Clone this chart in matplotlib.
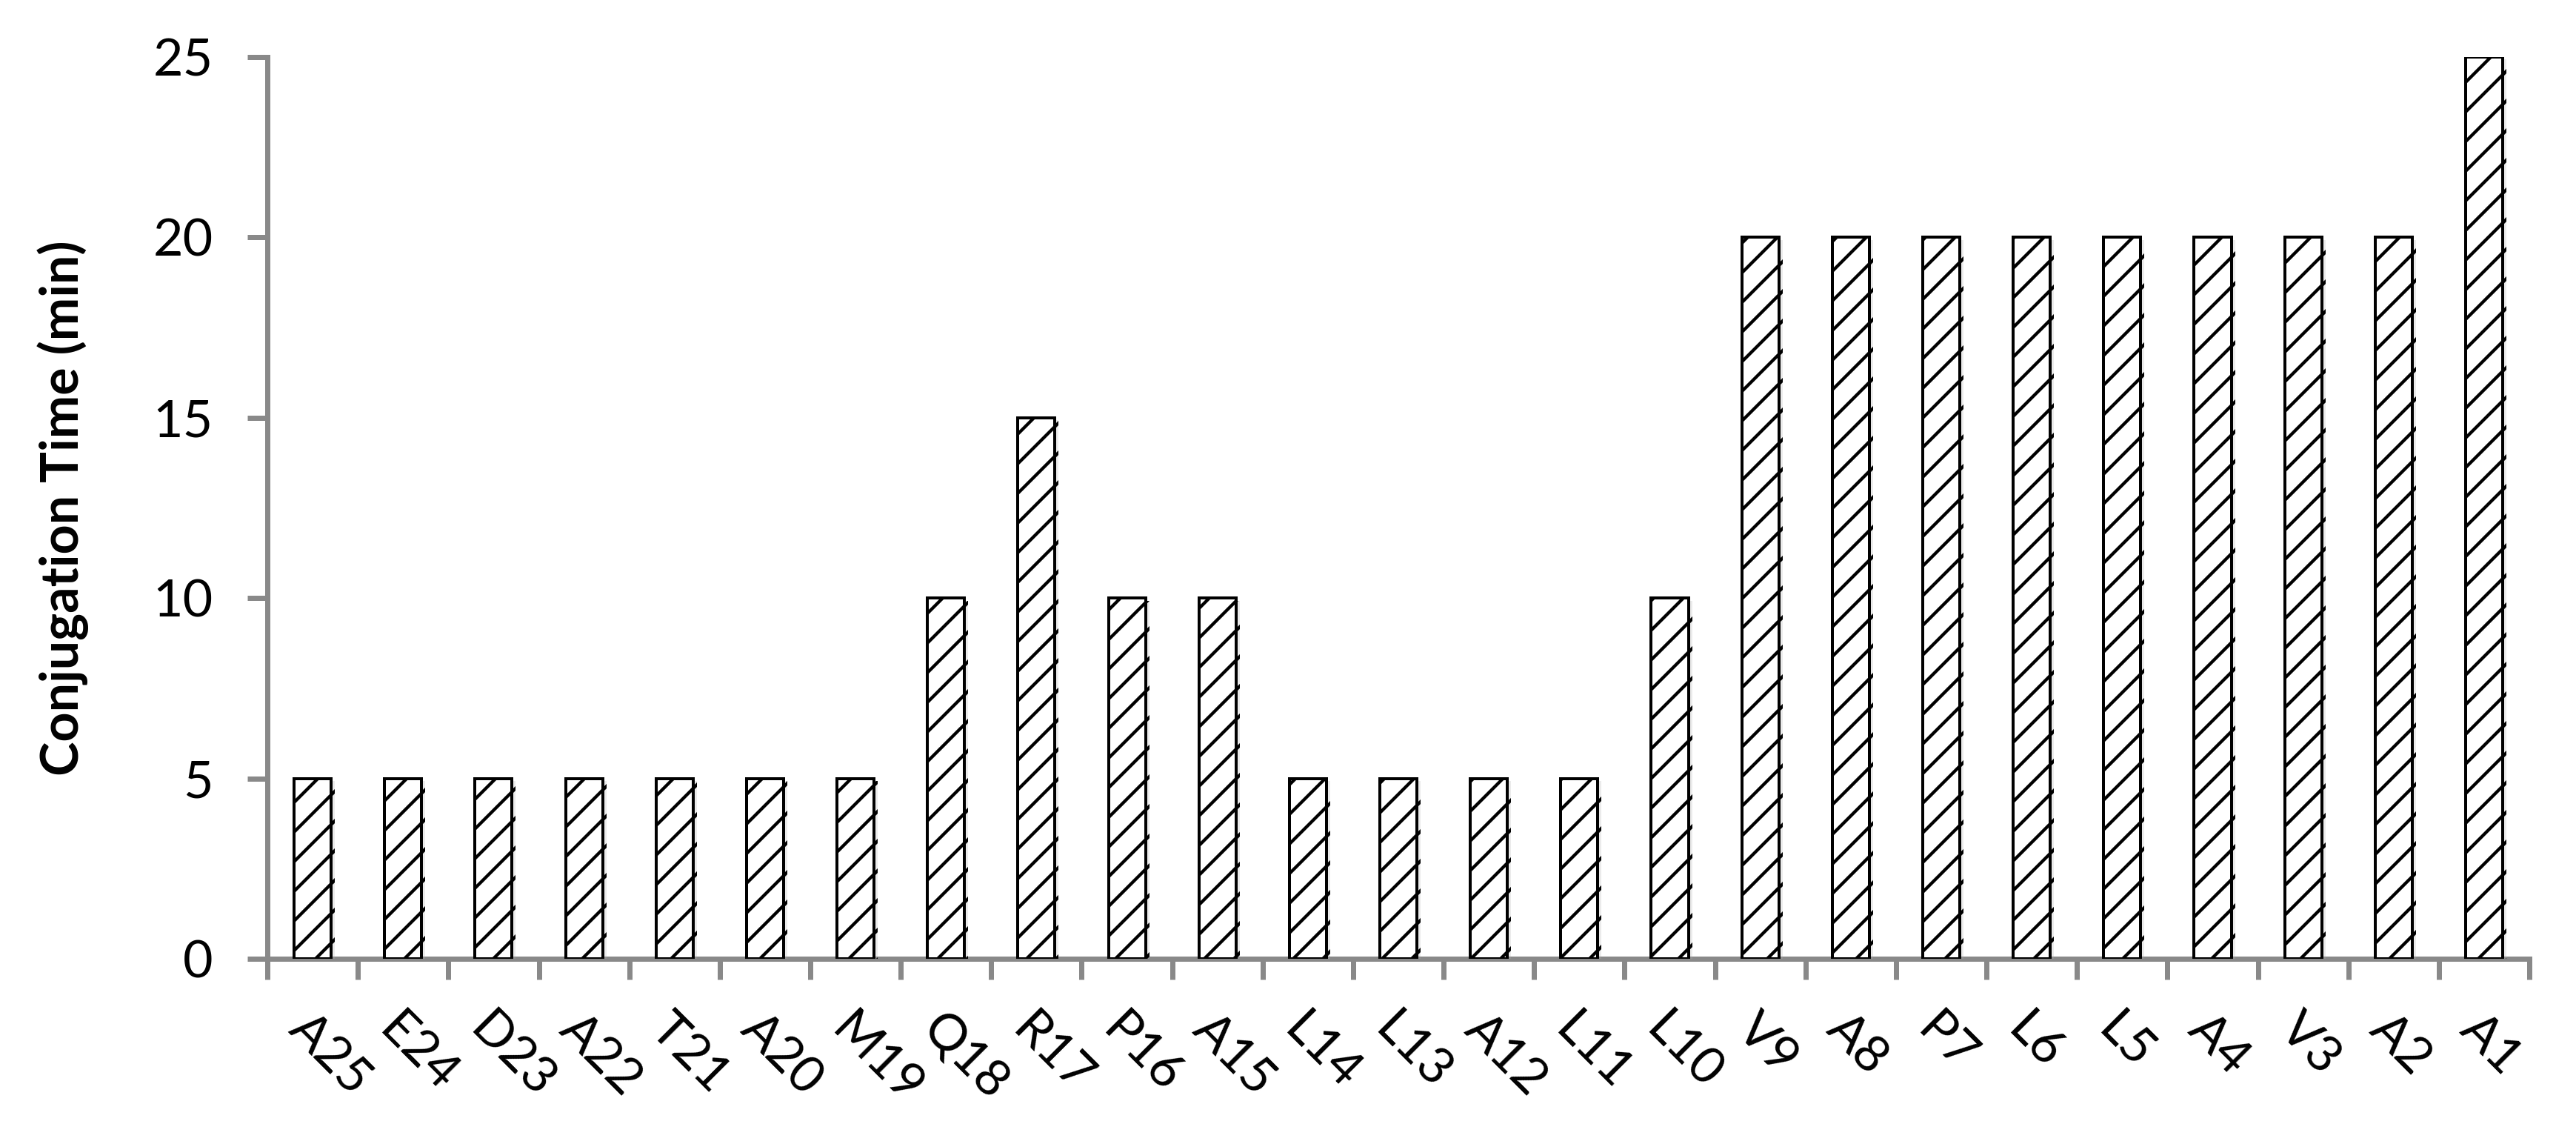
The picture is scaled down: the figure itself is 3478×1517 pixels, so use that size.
import matplotlib
matplotlib.use('Agg')
from matplotlib import pyplot as plt
from matplotlib import patheffects as pe
import numpy as np

residues = ['A25', 'E24', 'D23', 'A22', 'T21', 'A20', 'M19', 'Q18', 'R17',
            'P16', 'A15', 'L14', 'L13', 'A12', 'L11', 'L10', 'V9', 'A8',
            'P7', 'L6', 'L5', 'A4', 'V3', 'A2', 'A1']
conj_time = [5, 5, 5, 5, 5, 5, 5, 10, 15,
             10, 10, 5, 5, 5, 5, 10, 20, 20,
             20, 20, 20, 20, 20, 20, 25]
yticks = [0, 5, 10, 15, 20, 25]

plt.rcParams['font.family'] = ['Lato', 'DejaVu Sans']
plt.rcParams['hatch.linewidth'] = 2.6
axis_grey = '#898989'

fig = plt.figure(figsize=(3478 / 120, 1517 / 120), dpi=120)
ax = fig.add_axes([0.1038, 0.147, 0.9819 - 0.1038, 0.9492 - 0.147])

x = np.arange(len(residues))
bars = ax.bar(x, conj_time, width=0.41, facecolor='white', edgecolor='black',
              linewidth=2.4, hatch='/', zorder=3)
for b in bars:
    b.set_path_effects([pe.SimplePatchShadow(offset=(3, -2), shadow_rgbFace='#b0b0b0', alpha=0.25),
                        pe.Normal()])

ax.set_xlim(-0.5, len(residues) - 0.5)
ax.set_ylim(0, 25)
ax.set_yticks(yticks)
ax.set_yticklabels([str(v) for v in yticks], fontsize=42)
ax.set_xticks(x)
ax.set_xticklabels(residues, fontsize=41, rotation=-45, ha='left', va='top',
                   rotation_mode='anchor')
ax.set_xticks(np.arange(-0.5, len(residues)), minor=True)
ax.tick_params(axis='x', which='major', length=0, pad=38)
ax.tick_params(axis='x', which='minor', length=17, width=4.2, color=axis_grey, direction='out')
ax.tick_params(axis='y', length=16, width=4.2, color=axis_grey, direction='out', pad=28)

for side in ['top', 'right']:
    ax.spines[side].set_visible(False)
for side in ['left', 'bottom']:
    ax.spines[side].set_color(axis_grey)
    ax.spines[side].set_linewidth(4.2)

ax.set_ylabel('Conjugation Time (min)', fontsize=42, fontweight='bold')
ax.yaxis.set_label_coords(-0.079, 0.5)

fig.savefig('out.png', dpi=120, facecolor='white')
